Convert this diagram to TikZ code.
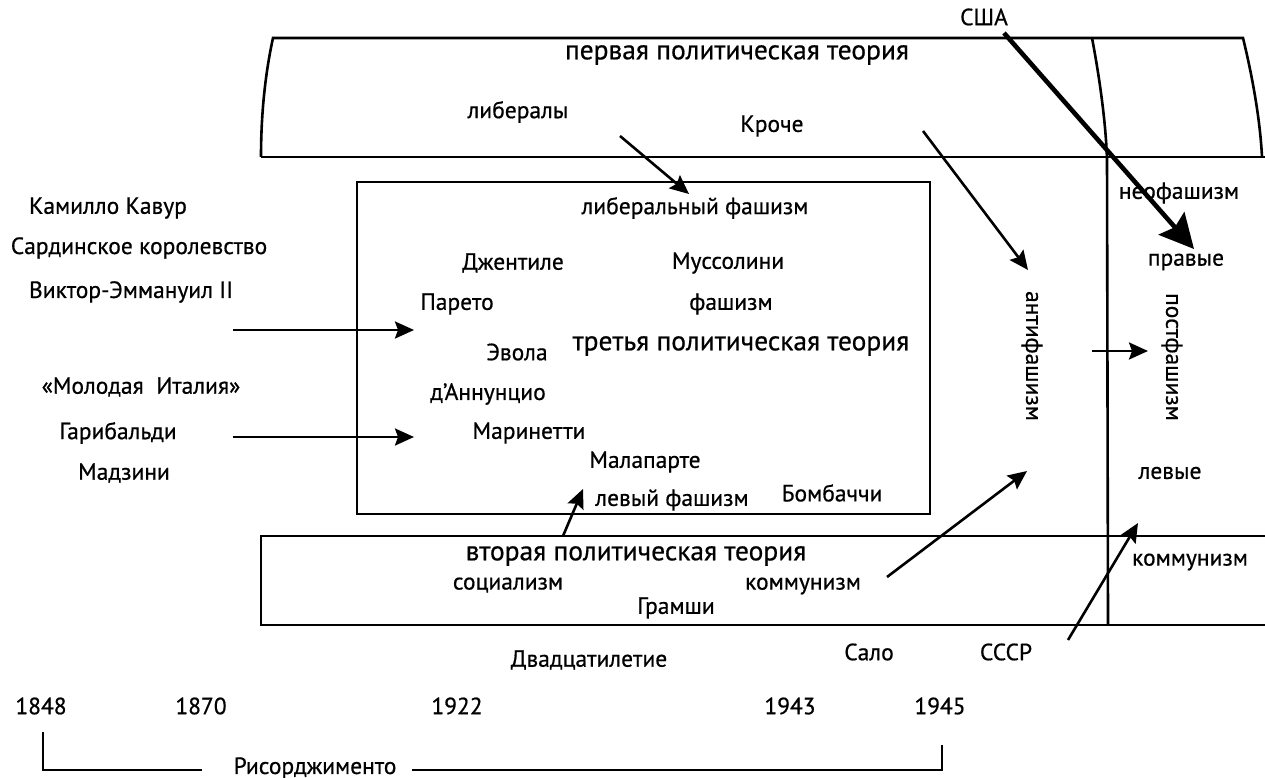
\documentclass[tikz,border=0pt]{standalone}
\usepackage{fontspec}
\setmainfont{PT Sans}[FakeBold=0.6]
\usetikzlibrary{arrows.meta}
\begin{document}
\begin{tikzpicture}[x=1pt,y=-1pt,
  lbl/.style={inner sep=0pt,font=\fontsize{23.5}{26}\selectfont},
  ttl/.style={inner sep=0pt,font=\fontsize{27.5}{30}\selectfont},
  frame/.style={line width=2.6pt},
  arr/.style={line width=2.6pt,-{Stealth[length=19pt,width=17pt,inset=3pt]}},
  bigarr/.style={line width=4.6pt,-{Stealth[length=34pt,width=34pt,inset=5pt]}}]
\useasboundingbox (0,0) rectangle (1265,778);

% first political theory: curved band at the top
\draw[frame] (261,157) .. controls (261,110) and (266,70) .. (273,38)
  -- (1243,38) .. controls (1252,75) and (1260,118) .. (1262,157);
\draw[frame] (261,157) -- (1265,157);
% divider between 1945 and after
\draw[frame] (1092,38) .. controls (1100,80) and (1106,125) .. (1107,160) -- (1108,625);
% third political theory
\draw[frame] (357,182) rectangle (930,514);
% second political theory
\draw[frame] (1265,536) -- (261,536) -- (261,625) -- (1265,625);

% titles
\node[ttl] (t1) at (737,55) {первая политическая теория};
\node[ttl] (t3) at (741,346) {третья политическая теория};
\node[ttl] (t2) at (636,556) {вторая политическая теория};

% first theory
\node[lbl] (usa) at (984,17) {США};
\node[lbl] (lib) at (518,112) {либералы};
\node[lbl] (croce) at (772,126) {Кроче};

% third theory
\node[lbl] (libf) at (695,208) {либеральный фашизм};
\node[lbl] (gent) at (513,263) {Джентиле};
\node[lbl] (muss) at (728,263) {Муссолини};
\node[lbl] (par) at (457,304) {Парето};
\node[lbl] (fas) at (731,304) {фашизм};
\node[lbl] (evola) at (517,352) {Эвола};
\node[lbl] (dann) at (488,394) {д’Аннунцио};
\node[lbl] (mar) at (529,433) {Маринетти};
\node[lbl] (mal) at (645,462) {Малапарте};
\node[lbl] (levf) at (672,500) {левый фашизм};
\node[lbl] (bomb) at (832,493) {Бомбаччи};

% left column
\node[lbl] (cav) at (108,208) {Камилло Кавур};
\node[lbl] (sard) at (139,248) {Сардинское королевство};
\node[lbl] (vit) at (131,292) {Виктор-Эммануил II};
\node[lbl] (gi) at (141,387) {«Молодая\ \ Италия»};
\node[lbl] (gar) at (118,433) {Гарибальди};
\node[lbl] (maz) at (124,473) {Мадзини};

% after 1945
\node[lbl] (neo) at (1179,193) {неофашизм};
\node[lbl] (right) at (1186,262) {правые};
\node[lbl,rotate=-90] (anti) at (1032,356) {антифашизм};
\node[lbl,rotate=-90] (post) at (1172,357) {постфашизм};
\node[lbl] (left) at (1170,473) {левые};
\node[lbl] (comm2) at (1190,562) {коммунизм};

% second theory
\node[lbl] (soc) at (508,585) {социализм};
\node[lbl] (comm) at (803,586) {коммунизм};
\node[lbl] (gram) at (676,608) {Грамши};

% events
\node[lbl] (salo) at (869,652) {Сало};
\node[lbl] (ussr) at (1006,652) {СССР};
\node[lbl] (vent) at (589,660) {Двадцатилетие};

% timeline
\node[lbl] (y1848) at (41,706) {1848};
\node[lbl] (y1870) at (201,706) {1870};
\node[lbl] (y1922) at (457,706) {1922};
\node[lbl] (y1943) at (790,706) {1943};
\node[lbl] (y1945) at (940,706) {1945};
\node[lbl] (ris) at (315,768) {Рисорджименто};
\coordinate (bA) at (43,732);
\coordinate (bB) at (43,770);
\coordinate (bC) at (202,770);
\coordinate (bD) at (412,770);
\coordinate (bE) at (942,770);
\coordinate (bF) at (942,745);
\draw[line width=2.4pt] (bA) -- (bB) -- (bC);
\draw[line width=2.4pt] (bD) -- (bE) -- (bF);

% connector ends
\coordinate (a1s) at (620,136);  \coordinate (a1e) at (689,194);
\coordinate (a2s) at (923,131);  \coordinate (a2e) at (1028,270);
\coordinate (a3s) at (1004,33);  \coordinate (a3e) at (1194,249);
\coordinate (a4s) at (233,330);  \coordinate (a4e) at (414,330);
\coordinate (a5s) at (233,437);  \coordinate (a5e) at (414,437);
\coordinate (a6s) at (563,536);  \coordinate (a6e) at (583,489);
\coordinate (a7s) at (887,577);  \coordinate (a7e) at (1027,471);
\coordinate (a8s) at (1092,351); \coordinate (a8e) at (1148,351);
\coordinate (a9s) at (1068,640); \coordinate (a9e) at (1138,523);

\draw[arr] (a1s) -- (a1e);
\draw[arr] (a2s) -- (a2e);
\draw[bigarr] (a3s) -- (a3e);
\draw[arr] (a4s) -- (a4e);
\draw[arr] (a5s) -- (a5e);
\draw[arr] (a6s) -- (a6e);
\draw[arr] (a7s) -- (a7e);
\draw[arr] (a8s) -- (a8e);
\draw[arr] (a9s) -- (a9e);
\end{tikzpicture}
\end{document}
